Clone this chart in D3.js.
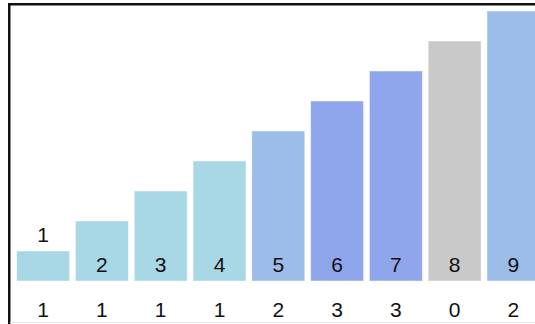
<!DOCTYPE html>
<html>
<head>
<meta charset="utf-8">
<script src="https://cdn.jsdelivr.net/npm/d3@7"></script>
<style>
    body { margin: 0; background: white; overflow: hidden; }
    text { font-family: "Liberation Sans", Arial, sans-serif; }
</style>
</head>
<body>
<div id="chart"></div>
<script>
// Values drawn in each bar and the group index shown below it
var values = [1, 2, 3, 4, 5, 6, 7, 8, 9];
var groups = [1, 1, 1, 1, 2, 3, 3, 0, 2];
var groupColors = ["#c9c9c9", "#a8d7e6", "#9bbde7", "#90a6ec"];

var width = 535;
var height = 324;

var svg = d3.select("#chart").append("svg")
    .attr("width", width)
    .attr("height", height);

// Frame lines (top and left)
svg.append("rect")
    .attr("x", 8).attr("y", 3)
    .attr("width", width - 8).attr("height", 2.5)
    .attr("fill", "#111");
svg.append("rect")
    .attr("x", 8).attr("y", 3)
    .attr("width", 2.5).attr("height", height)
    .attr("fill", "#111");
svg.append("line")
    .attr("x1", 10).attr("x2", width)
    .attr("y1", 322.5).attr("y2", 322.5)
    .attr("stroke", "#e6e6e6");

// Scales
var xScale = d3.scaleBand()
    .domain(d3.range(values.length))
    .range([10.8, 545.8])
    .paddingInner(0.1)
    .paddingOuter(0.1);

var yScale = d3.scaleLinear()
    .domain([0, 9])
    .range([281, 11]);

var bars = svg.selectAll(".bar")
    .data(values)
    .enter()
    .append("g")
    .attr("class", "bar");

bars.append("rect")
    .attr("x", (d, i) => xScale(i))
    .attr("y", d => yScale(d))
    .attr("width", xScale.bandwidth())
    .attr("height", d => yScale(0) - yScale(d))
    .attr("fill", (d, i) => groupColors[groups[i]])
    .attr("stroke", "white")
    .attr("stroke-opacity", 0.45)
    .attr("stroke-width", 1);

// Value labels: inside the bar near its base, or above it when the bar is too short
bars.append("text")
    .attr("x", (d, i) => xScale(i) + xScale.bandwidth() / 2)
    .attr("y", d => (yScale(0) - yScale(d) < 40) ? yScale(d) - 9 : yScale(0) - 9)
    .attr("text-anchor", "middle")
    .style("font-size", "21px")
    .style("fill", "#111")
    .text(d => d);

// Group index below each bar
bars.append("text")
    .attr("x", (d, i) => xScale(i) + xScale.bandwidth() / 2)
    .attr("y", 317)
    .attr("text-anchor", "middle")
    .style("font-size", "21px")
    .style("fill", "#111")
    .text((d, i) => groups[i]);
</script>
</body>
</html>
